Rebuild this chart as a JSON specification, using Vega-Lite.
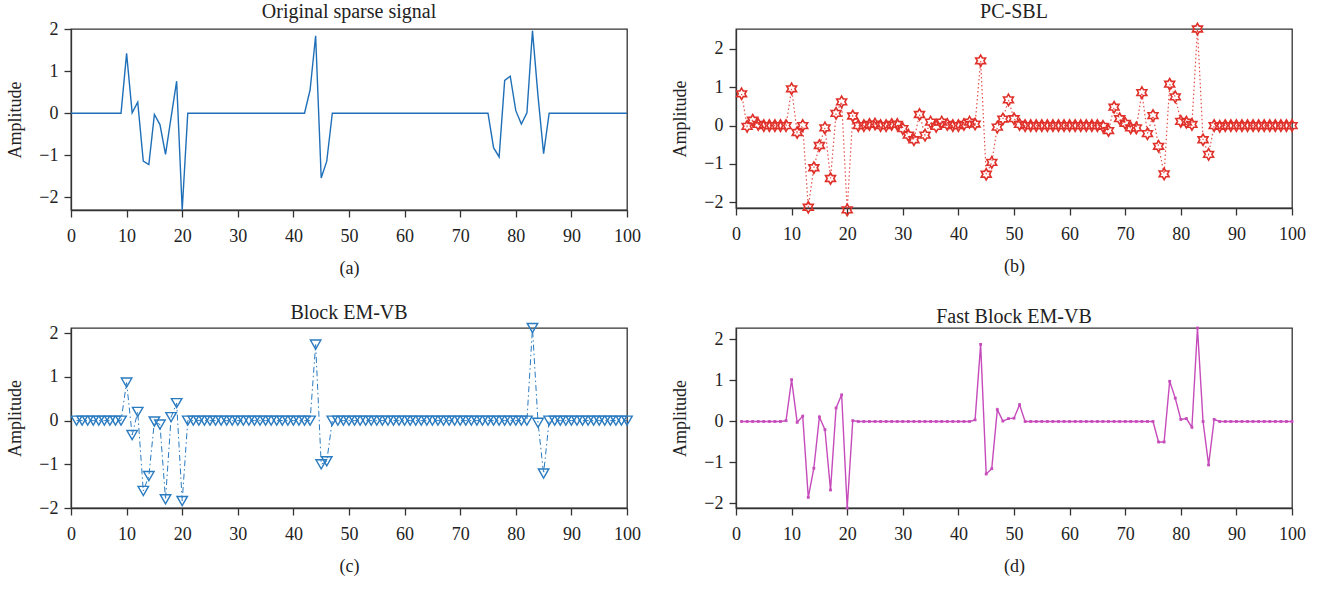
{
  "$schema": "https://vega.github.io/schema/vega-lite/v6.json",
  "background": "white",
  "padding": {"left": 6, "top": 1, "right": 5, "bottom": 5},
  "config": {
    "font": "Liberation Serif",
    "view": {"stroke": "#333333", "strokeWidth": 1.3},
    "axis": {
      "labelFont": "Liberation Serif", "labelFontSize": 18, "labelColor": "#222222",
      "titleFont": "Liberation Serif", "titleFontSize": 18, "titleFontWeight": "normal", "titleColor": "#222222",
      "domainColor": "#333333", "tickColor": "#333333", "tickSize": 7, "tickWidth": 1.3, "domainWidth": 1.3,
      "grid": false
    },
    "axisX": {"labelPadding": 10, "titlePadding": 14},
    "axisY": {"labelPadding": 6, "titlePadding": 14},
    "title": {"font": "Liberation Serif", "fontSize": 20, "fontWeight": "normal", "color": "#222222", "offset": -2}
  },
  "datasets": {
    "a": [
      {"x":0,"y":0},{"x":1,"y":0},{"x":2,"y":0},{"x":3,"y":0},{"x":4,"y":0},{"x":5,"y":0},{"x":6,"y":0},{"x":7,"y":0},{"x":8,"y":0},{"x":9,"y":0},
      {"x":10,"y":1.42},{"x":11,"y":0.01},{"x":12,"y":0.26},{"x":13,"y":-1.14},{"x":14,"y":-1.22},{"x":15,"y":-0.03},{"x":16,"y":-0.27},{"x":17,"y":-0.98},{"x":18,"y":-0.1},{"x":19,"y":0.76},
      {"x":20,"y":-2.3},{"x":21,"y":0},{"x":22,"y":0},{"x":23,"y":0},{"x":24,"y":0},{"x":25,"y":0},{"x":26,"y":0},{"x":27,"y":0},{"x":28,"y":0},{"x":29,"y":0},
      {"x":30,"y":0},{"x":31,"y":0},{"x":32,"y":0},{"x":33,"y":0},{"x":34,"y":0},{"x":35,"y":0},{"x":36,"y":0},{"x":37,"y":0},{"x":38,"y":0},{"x":39,"y":0},
      {"x":40,"y":0},{"x":41,"y":0},{"x":42,"y":0},{"x":43,"y":0.55},{"x":44,"y":1.84},{"x":45,"y":-1.54},{"x":46,"y":-1.14},{"x":47,"y":0},{"x":48,"y":0},{"x":49,"y":0},
      {"x":50,"y":0},{"x":51,"y":0},{"x":52,"y":0},{"x":53,"y":0},{"x":54,"y":0},{"x":55,"y":0},{"x":56,"y":0},{"x":57,"y":0},{"x":58,"y":0},{"x":59,"y":0},
      {"x":60,"y":0},{"x":61,"y":0},{"x":62,"y":0},{"x":63,"y":0},{"x":64,"y":0},{"x":65,"y":0},{"x":66,"y":0},{"x":67,"y":0},{"x":68,"y":0},{"x":69,"y":0},
      {"x":70,"y":0},{"x":71,"y":0},{"x":72,"y":0},{"x":73,"y":0},{"x":74,"y":0},{"x":75,"y":0},{"x":76,"y":-0.82},{"x":77,"y":-1.04},{"x":78,"y":0.78},{"x":79,"y":0.88},
      {"x":80,"y":0.06},{"x":81,"y":-0.26},{"x":82,"y":0.01},{"x":83,"y":1.96},{"x":84,"y":0.4},{"x":85,"y":-0.96},{"x":86,"y":0},{"x":87,"y":0},{"x":88,"y":0},{"x":89,"y":0},
      {"x":90,"y":0},{"x":91,"y":0},{"x":92,"y":0},{"x":93,"y":0},{"x":94,"y":0},{"x":95,"y":0},{"x":96,"y":0},{"x":97,"y":0},{"x":98,"y":0},{"x":99,"y":0},{"x":100,"y":0}
    ],
    "b": [
      {"x":1,"y":0.83},{"x":2,"y":-0.02},{"x":3,"y":0.14},{"x":4,"y":0.03},{"x":5,"y":0},{"x":6,"y":0},{"x":7,"y":0},{"x":8,"y":0},{"x":9,"y":0},
      {"x":10,"y":0.96},{"x":11,"y":-0.18},{"x":12,"y":0},{"x":13,"y":-2.13},{"x":14,"y":-1.1},{"x":15,"y":-0.52},{"x":16,"y":-0.06},{"x":17,"y":-1.38},{"x":18,"y":0.32},{"x":19,"y":0.62},
      {"x":20,"y":-2.2},{"x":21,"y":0.25},{"x":22,"y":0},{"x":23,"y":0},{"x":24,"y":0.03},{"x":25,"y":0.04},{"x":26,"y":0},{"x":27,"y":0},{"x":28,"y":0.03},{"x":29,"y":0.03},
      {"x":30,"y":-0.08},{"x":31,"y":-0.25},{"x":32,"y":-0.37},{"x":33,"y":0.29},{"x":34,"y":-0.25},{"x":35,"y":0.09},{"x":36,"y":-0.02},{"x":37,"y":0.09},{"x":38,"y":0.03},{"x":39,"y":0},
      {"x":40,"y":0},{"x":41,"y":0.03},{"x":42,"y":0.09},{"x":43,"y":0.04},{"x":44,"y":1.69},{"x":45,"y":-1.27},{"x":46,"y":-0.96},{"x":47,"y":-0.04},{"x":48,"y":0.17},{"x":49,"y":0.67},
      {"x":50,"y":0.18},{"x":51,"y":0.03},{"x":52,"y":0},{"x":53,"y":0},{"x":54,"y":0},{"x":55,"y":0},{"x":56,"y":0},{"x":57,"y":0},{"x":58,"y":0},{"x":59,"y":0},
      {"x":60,"y":0},{"x":61,"y":0},{"x":62,"y":0},{"x":63,"y":0},{"x":64,"y":0},{"x":65,"y":0},{"x":66,"y":-0.02},{"x":67,"y":-0.13},{"x":68,"y":0.48},{"x":69,"y":0.18},
      {"x":70,"y":0.06},{"x":71,"y":-0.06},{"x":72,"y":-0.06},{"x":73,"y":0.86},{"x":74,"y":-0.21},{"x":75,"y":0.26},{"x":76,"y":-0.54},{"x":77,"y":-1.26},{"x":78,"y":1.08},{"x":79,"y":0.75},
      {"x":80,"y":0.11},{"x":81,"y":0.09},{"x":82,"y":0.03},{"x":83,"y":2.52},{"x":84,"y":-0.37},{"x":85,"y":-0.75},{"x":86,"y":0},{"x":87,"y":-0.02},{"x":88,"y":0},{"x":89,"y":0},
      {"x":90,"y":0},{"x":91,"y":0},{"x":92,"y":0},{"x":93,"y":0},{"x":94,"y":0},{"x":95,"y":0},{"x":96,"y":0},{"x":97,"y":0},{"x":98,"y":0},{"x":99,"y":0},{"x":100,"y":0}
    ],
    "c": [
      {"x":1,"y":0},{"x":2,"y":0},{"x":3,"y":0},{"x":4,"y":0},{"x":5,"y":0},{"x":6,"y":0},{"x":7,"y":0},{"x":8,"y":0},{"x":9,"y":0},
      {"x":10,"y":0.87},{"x":11,"y":-0.33},{"x":12,"y":0.2},{"x":13,"y":-1.61},{"x":14,"y":-1.27},{"x":15,"y":-0.02},{"x":16,"y":-0.09},{"x":17,"y":-1.8},{"x":18,"y":0.08},{"x":19,"y":0.4},
      {"x":20,"y":-1.84},{"x":21,"y":0},{"x":22,"y":0},{"x":23,"y":0},{"x":24,"y":0},{"x":25,"y":0},{"x":26,"y":0},{"x":27,"y":0},{"x":28,"y":0},{"x":29,"y":0},
      {"x":30,"y":0},{"x":31,"y":0},{"x":32,"y":0},{"x":33,"y":0},{"x":34,"y":0},{"x":35,"y":0},{"x":36,"y":0},{"x":37,"y":0},{"x":38,"y":0},{"x":39,"y":0},
      {"x":40,"y":0},{"x":41,"y":0},{"x":42,"y":0},{"x":43,"y":0},{"x":44,"y":1.74},{"x":45,"y":-1.0},{"x":46,"y":-0.93},{"x":47,"y":0},{"x":48,"y":0},{"x":49,"y":0},
      {"x":50,"y":0},{"x":51,"y":0},{"x":52,"y":0},{"x":53,"y":0},{"x":54,"y":0},{"x":55,"y":0},{"x":56,"y":0},{"x":57,"y":0},{"x":58,"y":0},{"x":59,"y":0},
      {"x":60,"y":0},{"x":61,"y":0},{"x":62,"y":0},{"x":63,"y":0},{"x":64,"y":0},{"x":65,"y":0},{"x":66,"y":0},{"x":67,"y":0},{"x":68,"y":0},{"x":69,"y":0},
      {"x":70,"y":0},{"x":71,"y":0},{"x":72,"y":0},{"x":73,"y":0},{"x":74,"y":0},{"x":75,"y":0},{"x":76,"y":0},{"x":77,"y":0},{"x":78,"y":0},{"x":79,"y":0},
      {"x":80,"y":0},{"x":81,"y":0},{"x":82,"y":0},{"x":83,"y":2.12},{"x":84,"y":-0.05},{"x":85,"y":-1.21},{"x":86,"y":0},{"x":87,"y":0},{"x":88,"y":0},{"x":89,"y":0},
      {"x":90,"y":0},{"x":91,"y":0},{"x":92,"y":0},{"x":93,"y":0},{"x":94,"y":0},{"x":95,"y":0},{"x":96,"y":0},{"x":97,"y":0},{"x":98,"y":0},{"x":99,"y":0},{"x":100,"y":0}
    ],
    "d": [
      {"x":1,"y":0},{"x":2,"y":0},{"x":3,"y":0},{"x":4,"y":0},{"x":5,"y":0},{"x":6,"y":0},{"x":7,"y":0},{"x":8,"y":0},{"x":9,"y":0.02},
      {"x":10,"y":1.02},{"x":11,"y":-0.02},{"x":12,"y":0.13},{"x":13,"y":-1.85},{"x":14,"y":-1.14},{"x":15,"y":0.11},{"x":16,"y":-0.2},{"x":17,"y":-1.67},{"x":18,"y":0.33},{"x":19,"y":0.65},
      {"x":20,"y":-2.11},{"x":21,"y":0.02},{"x":22,"y":0},{"x":23,"y":0},{"x":24,"y":0},{"x":25,"y":0},{"x":26,"y":0},{"x":27,"y":0},{"x":28,"y":0},{"x":29,"y":0},
      {"x":30,"y":0},{"x":31,"y":0},{"x":32,"y":0},{"x":33,"y":0},{"x":34,"y":0},{"x":35,"y":0},{"x":36,"y":0},{"x":37,"y":0},{"x":38,"y":0},{"x":39,"y":0},
      {"x":40,"y":0},{"x":41,"y":0},{"x":42,"y":0},{"x":43,"y":0.04},{"x":44,"y":1.88},{"x":45,"y":-1.28},{"x":46,"y":-1.15},{"x":47,"y":0.29},{"x":48,"y":0.01},{"x":49,"y":0.07},
      {"x":50,"y":0.08},{"x":51,"y":0.41},{"x":52,"y":0},{"x":53,"y":0},{"x":54,"y":0},{"x":55,"y":0},{"x":56,"y":0},{"x":57,"y":0},{"x":58,"y":0},{"x":59,"y":0},
      {"x":60,"y":0},{"x":61,"y":0},{"x":62,"y":0},{"x":63,"y":0},{"x":64,"y":0},{"x":65,"y":0},{"x":66,"y":0},{"x":67,"y":0},{"x":68,"y":0},{"x":69,"y":0},
      {"x":70,"y":0},{"x":71,"y":0},{"x":72,"y":0},{"x":73,"y":0},{"x":74,"y":0},{"x":75,"y":0},{"x":76,"y":-0.5},{"x":77,"y":-0.5},{"x":78,"y":0.98},{"x":79,"y":0.57},
      {"x":80,"y":0.05},{"x":81,"y":0.07},{"x":82,"y":-0.14},{"x":83,"y":2.28},{"x":84,"y":0},{"x":85,"y":-1.06},{"x":86,"y":0.05},{"x":87,"y":0},{"x":88,"y":0},{"x":89,"y":0},
      {"x":90,"y":0},{"x":91,"y":0},{"x":92,"y":0},{"x":93,"y":0},{"x":94,"y":0},{"x":95,"y":0},{"x":96,"y":0},{"x":97,"y":0},{"x":98,"y":0},{"x":99,"y":0},{"x":100,"y":0}
    ]
  },
  "columns": 2,
  "bounds": "flush",
  "spacing": {"row": 118, "column": 109},
  "concat": [
    {
      "title": "Original sparse signal",
      "width": 556, "height": 181,
      "data": {"name": "a"},
      "mark": {"type": "line", "color": "#1f6fb8", "strokeWidth": 1.4},
      "encoding": {
        "x": {"field": "x", "type": "quantitative", "scale": {"domain": [0, 100], "nice": false},
              "axis": {"values": [0,10,20,30,40,50,60,70,80,90,100], "title": "(a)", "labelFlush": false}},
        "y": {"field": "y", "type": "quantitative", "scale": {"domain": [-2.3, 2.0], "nice": false, "zero": false},
              "axis": {"values": [-2,-1,0,1,2], "format": "d", "title": "Amplitude"}}
      }
    },
    {
      "title": "PC-SBL",
      "width": 556, "height": 179,
      "data": {"name": "b"},
      "encoding": {
        "x": {"field": "x", "type": "quantitative", "scale": {"domain": [0, 100], "nice": false},
              "axis": {"values": [0,10,20,30,40,50,60,70,80,90,100], "title": "(b)", "labelFlush": false}},
        "y": {"field": "y", "type": "quantitative", "scale": {"domain": [-2.15, 2.52], "nice": false, "zero": false},
              "axis": {"values": [-2,-1,0,1,2], "format": "d", "title": "Amplitude"}}
      },
      "layer": [
        {"mark": {"type": "line", "color": "#e0302a", "strokeWidth": 1.2, "strokeDash": [1.5, 2.5], "opacity": 0.85}},
        {"mark": {"type": "point", "shape": "M0,-1L0.289,-0.5L0.866,-0.5L0.577,0L0.866,0.5L0.289,0.5L0,1L-0.289,0.5L-0.866,0.5L-0.577,0L-0.866,-0.5L-0.289,-0.5Z",
                  "filled": false, "color": "#e0302a", "size": 130, "strokeWidth": 1.6, "opacity": 1}}
      ]
    },
    {
      "title": "Block EM-VB",
      "width": 556, "height": 180,
      "data": {"name": "c"},
      "encoding": {
        "x": {"field": "x", "type": "quantitative", "scale": {"domain": [0, 100], "nice": false},
              "axis": {"values": [0,10,20,30,40,50,60,70,80,90,100], "title": "(c)", "labelFlush": false}},
        "y": {"field": "y", "type": "quantitative", "scale": {"domain": [-2.0, 2.12], "nice": false, "zero": false},
              "axis": {"values": [-2,-1,0,1,2], "format": "d", "title": "Amplitude"}}
      },
      "layer": [
        {"mark": {"type": "line", "color": "#2a7bc0", "strokeWidth": 1, "strokeDash": [6, 3, 1.5, 3]}},
        {"mark": {"type": "point", "shape": "triangle-down", "filled": false, "color": "#2a7bc0", "size": 110, "strokeWidth": 1.4, "opacity": 1}}
      ]
    },
    {
      "title": "Fast Block EM-VB",
      "width": 556, "height": 180,
      "data": {"name": "d"},
      "encoding": {
        "x": {"field": "x", "type": "quantitative", "scale": {"domain": [0, 100], "nice": false},
              "axis": {"values": [0,10,20,30,40,50,60,70,80,90,100], "title": "(d)", "labelFlush": false}},
        "y": {"field": "y", "type": "quantitative", "scale": {"domain": [-2.11, 2.28], "nice": false, "zero": false},
              "axis": {"values": [-2,-1,0,1,2], "format": "d", "title": "Amplitude"}}
      },
      "layer": [
        {"mark": {"type": "line", "color": "#c64bbb", "strokeWidth": 1.4}},
        {"mark": {"type": "point", "shape": "square", "filled": true, "color": "#c64bbb", "size": 8, "opacity": 1}}
      ]
    }
  ]
}
